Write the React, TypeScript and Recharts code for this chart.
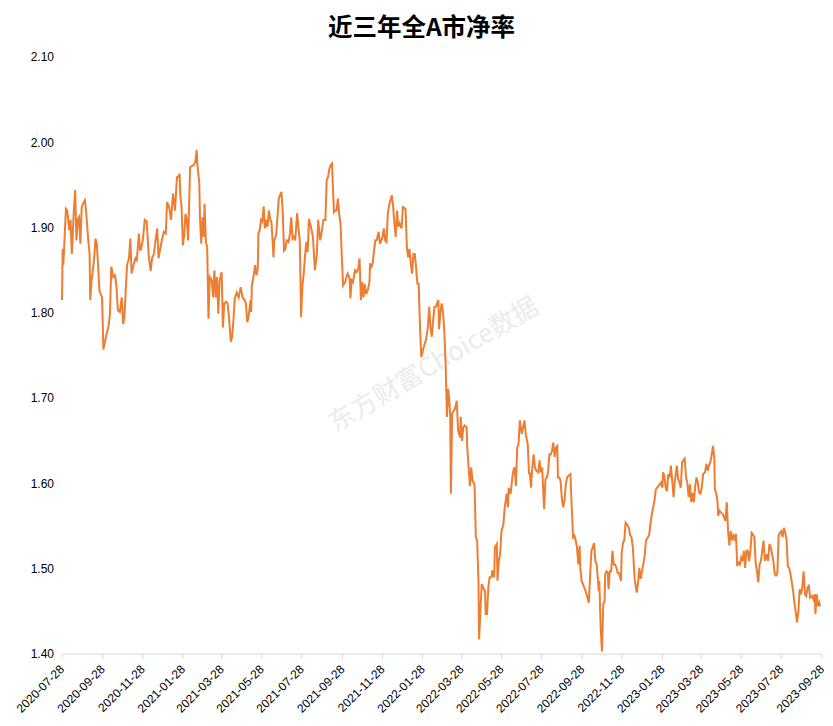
import { LineChart, Line, XAxis, YAxis } from "recharts";

const title = "近三年全A市净率";
const watermark = "东方财富Choice数据";
const startDate = "2020-07-28";
const endDate = "2023-09-28";

const xTickLabels = [
  "2020-07-28", "2020-09-28", "2020-11-28", "2021-01-28", "2021-03-28",
  "2021-05-28", "2021-07-28", "2021-09-28", "2021-11-28", "2022-01-28",
  "2022-03-28", "2022-05-28", "2022-07-28", "2022-09-28", "2022-11-28",
  "2023-01-28", "2023-03-28", "2023-05-28", "2023-07-28", "2023-09-28",
];

const yTicks = [1.4, 1.5, 1.6, 1.7, 1.8, 1.9, 2.0, 2.1];

// [days since 2020-07-28, PB]
const pbPoints: [number, number][] = [
  [0, 1.815], [1, 1.875], [2, 1.856], [6, 1.922], [8, 1.92], [11, 1.897], [13, 1.909], [15, 1.869],
  [16, 1.885], [18, 1.92], [20, 1.944], [22, 1.885], [24, 1.909], [26, 1.912], [28, 1.881], [30, 1.924],
  [32, 1.928], [35, 1.932], [37, 1.916], [40, 1.885], [42, 1.869], [43, 1.815], [45, 1.838], [47, 1.85],
  [49, 1.864], [51, 1.887], [53, 1.881], [55, 1.854], [57, 1.826], [59, 1.822], [61, 1.818], [63, 1.757],
  [67, 1.772], [71, 1.785], [73, 1.799], [75, 1.854], [78, 1.842], [81, 1.844], [83, 1.83], [85, 1.803],
  [88, 1.801], [91, 1.818], [93, 1.787], [95, 1.795], [97, 1.826], [99, 1.856], [102, 1.864], [104, 1.887],
  [106, 1.846], [109, 1.856], [112, 1.864], [114, 1.862], [117, 1.893], [119, 1.873], [121, 1.877], [123, 1.885],
  [126, 1.909], [129, 1.907], [132, 1.867], [135, 1.849], [137, 1.864], [140, 1.869], [142, 1.883], [145, 1.899],
  [147, 1.864], [150, 1.877], [152, 1.885], [155, 1.895], [158, 1.893], [160, 1.93], [163, 1.924], [166, 1.909],
  [169, 1.94], [172, 1.92], [175, 1.959], [177, 1.959], [179, 1.963], [180, 1.94], [182, 1.924], [184, 1.879],
  [186, 1.891], [188, 1.916], [190, 1.909], [192, 1.885],
  [194, 1.94], [195, 1.971], [200, 1.973], [203, 1.977], [205, 1.991], [206, 1.975], [209, 1.952], [210, 1.912],
  [212, 1.881], [214, 1.912], [216, 1.889], [217, 1.928], [219, 1.883], [221, 1.877], [223, 1.793], [225, 1.842],
  [228, 1.838], [230, 1.818], [232, 1.85], [234, 1.818], [236, 1.842], [238, 1.799], [240, 1.838], [243, 1.848],
  [245, 1.783], [247, 1.811], [250, 1.813], [252, 1.811], [254, 1.797], [257, 1.766], [259, 1.772], [261, 1.791],
  [263, 1.817], [266, 1.824], [269, 1.818], [272, 1.83], [275, 1.818], [278, 1.815], [280, 1.811], [282, 1.789],
  [284, 1.795], [287, 1.815], [288, 1.801], [289, 1.832], [291, 1.84], [294, 1.856], [296, 1.844], [298, 1.852],
  [299, 1.893], [301, 1.897], [303, 1.909], [305, 1.907], [307, 1.925], [309, 1.899], [311, 1.909], [313, 1.901],
  [315, 1.92], [317, 1.91], [319, 1.905], [322, 1.865], [323, 1.885], [326, 1.891], [328, 1.912], [330, 1.934],
  [332, 1.938], [334, 1.942], [336, 1.92], [338, 1.873], [340, 1.875], [342, 1.885], [345, 1.883], [347, 1.893],
  [349, 1.912], [351, 1.887], [353, 1.889], [355, 1.885], [358, 1.917], [360, 1.899], [362, 1.885], [364, 1.795],
  [366, 1.832], [368, 1.846], [370, 1.867], [372, 1.883], [374, 1.871], [376, 1.91], [379, 1.901], [382, 1.889],
  [385, 1.85], [388, 1.869], [390, 1.909], [393, 1.885], [395, 1.893], [398, 1.909],
  [401, 1.909], [403, 1.956], [405, 1.959], [407, 1.969], [409, 1.973], [411, 1.975], [412, 1.956], [414, 1.918],
  [416, 1.92], [418, 1.92], [420, 1.934], [422, 1.916], [424, 1.905], [426, 1.865], [428, 1.832], [431, 1.836],
  [433, 1.842], [435, 1.846], [438, 1.84], [439, 1.817], [441, 1.838], [443, 1.836], [446, 1.85], [449, 1.848],
  [451, 1.852], [453, 1.864], [455, 1.815], [457, 1.836], [459, 1.818], [461, 1.834], [463, 1.822], [466, 1.828],
  [468, 1.836], [469, 1.858], [471, 1.854], [473, 1.858], [475, 1.873], [477, 1.885], [479, 1.885], [482, 1.895],
  [484, 1.881], [486, 1.885], [488, 1.889], [490, 1.899], [492, 1.885], [494, 1.883], [496, 1.916], [498, 1.926],
  [500, 1.932], [502, 1.938], [504, 1.926], [506, 1.905], [508, 1.889], [510, 1.92], [512, 1.901], [514, 1.905],
  [517, 1.899], [519, 1.924], [523, 1.922], [525, 1.877], [527, 1.865], [529, 1.875], [531, 1.858], [533, 1.846],
  [535, 1.869], [537, 1.869], [539, 1.854], [541, 1.834], [543, 1.834], [545, 1.783], [547, 1.748], [550, 1.758],
  [554, 1.768], [557, 1.783], [559, 1.807], [561, 1.783], [563, 1.772], [565, 1.791], [567, 1.807], [569, 1.807],
  [571, 1.811], [573, 1.815], [574, 1.781], [576, 1.799], [578, 1.811], [580, 1.801], [582, 1.779], [584, 1.74],
  [586, 1.678], [588, 1.711], [590, 1.693], [591, 1.678], [592, 1.588], [594, 1.682], [596, 1.685], [598, 1.687],
  [601, 1.697], [603, 1.662], [606, 1.654], [607, 1.678], [609, 1.65], [611, 1.666], [613, 1.668], [616, 1.666],
  [617, 1.642], [619, 1.619], [621, 1.597], [623, 1.619], [625, 1.603], [628, 1.599], [630, 1.537], [632, 1.533],
  [634, 1.486], [635, 1.417], [637, 1.451], [639, 1.482], [641, 1.478], [644, 1.474], [645, 1.447], [647, 1.447],
  [649, 1.478], [651, 1.49], [654, 1.49], [655, 1.498], [658, 1.49], [659, 1.525], [662, 1.529], [663, 1.486],
  [665, 1.509], [667, 1.517], [669, 1.544], [672, 1.552], [674, 1.572], [677, 1.588], [679, 1.572], [680, 1.595],
  [683, 1.588], [685, 1.603], [687, 1.615], [689, 1.619], [691, 1.597], [693, 1.642], [695, 1.646], [697, 1.674],
  [700, 1.658], [702, 1.666], [704, 1.674], [706, 1.658], [709, 1.646], [711, 1.611],
  [712, 1.613], [714, 1.595], [716, 1.619], [718, 1.634], [720, 1.619], [722, 1.615], [725, 1.613], [727, 1.627],
  [729, 1.613], [731, 1.619], [733, 1.584], [734, 1.57], [736, 1.605], [738, 1.607], [740, 1.613], [742, 1.634],
  [744, 1.634], [746, 1.638], [748, 1.648], [750, 1.631], [752, 1.642], [754, 1.644], [755, 1.607], [757, 1.607],
  [759, 1.603], [761, 1.582], [763, 1.572], [765, 1.58], [767, 1.599], [769, 1.607], [771, 1.609], [774, 1.611],
  [776, 1.572], [778, 1.537], [780, 1.539], [782, 1.533], [784, 1.525], [786, 1.505], [788, 1.527], [789, 1.501],
  [791, 1.486], [793, 1.482], [797, 1.474], [800, 1.466], [802, 1.46], [804, 1.492], [806, 1.521], [808, 1.525],
  [810, 1.53], [812, 1.509], [814, 1.505], [816, 1.486], [817, 1.474], [818, 1.486], [820, 1.431], [822, 1.403],
  [824, 1.458], [826, 1.462], [827, 1.494], [829, 1.497], [831, 1.495], [832, 1.476], [834, 1.497], [836, 1.497],
  [838, 1.521], [840, 1.505], [842, 1.505], [844, 1.501], [846, 1.495], [848, 1.495], [851, 1.486], [852, 1.517],
  [854, 1.531], [856, 1.533], [858, 1.554], [860, 1.552], [863, 1.548], [865, 1.539], [867, 1.537], [869, 1.525],
  [872, 1.486], [875, 1.472], [877, 1.484], [879, 1.501], [881, 1.488], [884, 1.501], [887, 1.515], [889, 1.533],
  [892, 1.537], [894, 1.54], [896, 1.554], [898, 1.564], [900, 1.572], [902, 1.58], [904, 1.593], [907, 1.596],
  [910, 1.599],
  [912, 1.601], [914, 1.595], [915, 1.613], [917, 1.609], [919, 1.595], [921, 1.591], [923, 1.611], [925, 1.607],
  [927, 1.621], [929, 1.603], [931, 1.584], [933, 1.603], [936, 1.621], [938, 1.605], [940, 1.601], [942, 1.595],
  [944, 1.625], [946, 1.627], [948, 1.629], [950, 1.607], [952, 1.601], [954, 1.584], [956, 1.599], [958, 1.578],
  [960, 1.589], [962, 1.578], [964, 1.597], [966, 1.607], [968, 1.601], [970, 1.589], [972, 1.588], [974, 1.595],
  [976, 1.611], [979, 1.613], [981, 1.623], [983, 1.615], [985, 1.621], [987, 1.625], [989, 1.633], [991, 1.644],
  [993, 1.631], [994, 1.593], [996, 1.588], [998, 1.578], [999, 1.562], [1001, 1.568], [1003, 1.566], [1006, 1.564],
  [1008, 1.56], [1010, 1.556], [1012, 1.578], [1014, 1.544], [1016, 1.527], [1018, 1.544], [1020, 1.533], [1022, 1.539],
  [1024, 1.535], [1026, 1.541], [1028, 1.503], [1030, 1.507], [1032, 1.505], [1034, 1.513], [1036, 1.509], [1038, 1.521],
  [1040, 1.501], [1042, 1.521], [1044, 1.521], [1046, 1.509], [1048, 1.521], [1050, 1.542], [1052, 1.54], [1054, 1.537],
  [1056, 1.507], [1058, 1.497], [1060, 1.484], [1062, 1.505], [1064, 1.509], [1066, 1.521], [1068, 1.533], [1070, 1.509],
  [1073, 1.517], [1075, 1.509], [1077, 1.529], [1079, 1.525], [1081, 1.517], [1083, 1.509], [1085, 1.494], [1087, 1.492],
  [1089, 1.494], [1091, 1.539], [1093, 1.542], [1095, 1.544], [1097, 1.537], [1099, 1.548], [1101, 1.542], [1103, 1.535],
  [1105, 1.503], [1107, 1.501], [1109, 1.494], [1111, 1.484], [1113, 1.474], [1115, 1.46], [1117, 1.449], [1119, 1.437],
  [1121, 1.449], [1123, 1.476], [1125, 1.47], [1127, 1.478], [1129, 1.497], [1131, 1.47], [1133, 1.468], [1135, 1.478],
  [1137, 1.48], [1139, 1.466], [1142, 1.468], [1144, 1.464], [1146, 1.47], [1147, 1.447], [1149, 1.47], [1151, 1.456],
  [1153, 1.46], [1154, 1.456],
];

const DAY_MS = 86400000;
const startMs = Date.parse(startDate + "T00:00:00Z");
const toDay = (s: string) => Math.round((Date.parse(s + "T00:00:00Z") - startMs) / DAY_MS);
const dayLabel = (d: number) => new Date(startMs + d * DAY_MS).toISOString().slice(0, 10);

const xTicks = xTickLabels.map(toDay);
const data = pbPoints.map(([d, v]) => ({ day: d, pb: v }));

const tickFont = "'Liberation Sans', Arial, sans-serif";

function DateTick({ x, y, payload }: any) {
  return (
    <g transform={`translate(${x + 3},${y + 9})`}>
      <text
        x={0}
        y={0}
        textAnchor="end"
        transform="rotate(-45)"
        fontSize={12}
        fontFamily={tickFont}
        fill="#000"
      >
        {dayLabel(payload.value)}
      </text>
    </g>
  );
}

export default function App() {
  return (
    <div style={{ position: "absolute", left: 0, top: 0, width: 833, height: 726, background: "#fff" }}>
      <div
        style={{
          position: "absolute",
          left: 0,
          width: 833,
          top: 8,
          textAlign: "center",
          paddingLeft: 10,
          boxSizing: "border-box",
          fontFamily: "'Noto Sans CJK SC', sans-serif",
          fontWeight: 700,
          fontSize: 24.5,
          color: "#000",
        }}
      >
        {title}
      </div>
      <div
        style={{
          position: "absolute",
          left: 432,
          top: 362,
          transform: "translate(-50%, -50%) rotate(-30.5deg)",
          whiteSpace: "nowrap",
          fontFamily: "'Noto Sans CJK SC', sans-serif",
          fontSize: 26,
          color: "#ebebeb",
        }}
      >
        {watermark}
      </div>
      <div style={{ position: "absolute", left: 0, top: 0 }}>
        <LineChart width={833} height={726} data={data} margin={{ top: 57, right: 11, bottom: 0, left: 0 }}>
          <XAxis
            dataKey="day"
            type="number"
            domain={[0, toDay(endDate)]}
            ticks={xTicks}
            interval={0}
            height={72}
            axisLine={{ stroke: "#d9d9d9" }}
            tickLine={{ stroke: "#d9d9d9" }}
            tickSize={5}
            tick={<DateTick />}
          />
          <YAxis
            type="number"
            domain={[1.4, 2.1]}
            ticks={yTicks}
            interval={0}
            width={62}
            axisLine={false}
            tickLine={false}
            tickFormatter={(v: number) => v.toFixed(2)}
            tick={{ fontSize: 12, fill: "#000", fontFamily: tickFont }}
          />
          <Line
            type="linear"
            dataKey="pb"
            stroke="#ED7D31"
            strokeWidth={2}
            dot={false}
            isAnimationActive={false}
          />
        </LineChart>
      </div>
    </div>
  );
}
